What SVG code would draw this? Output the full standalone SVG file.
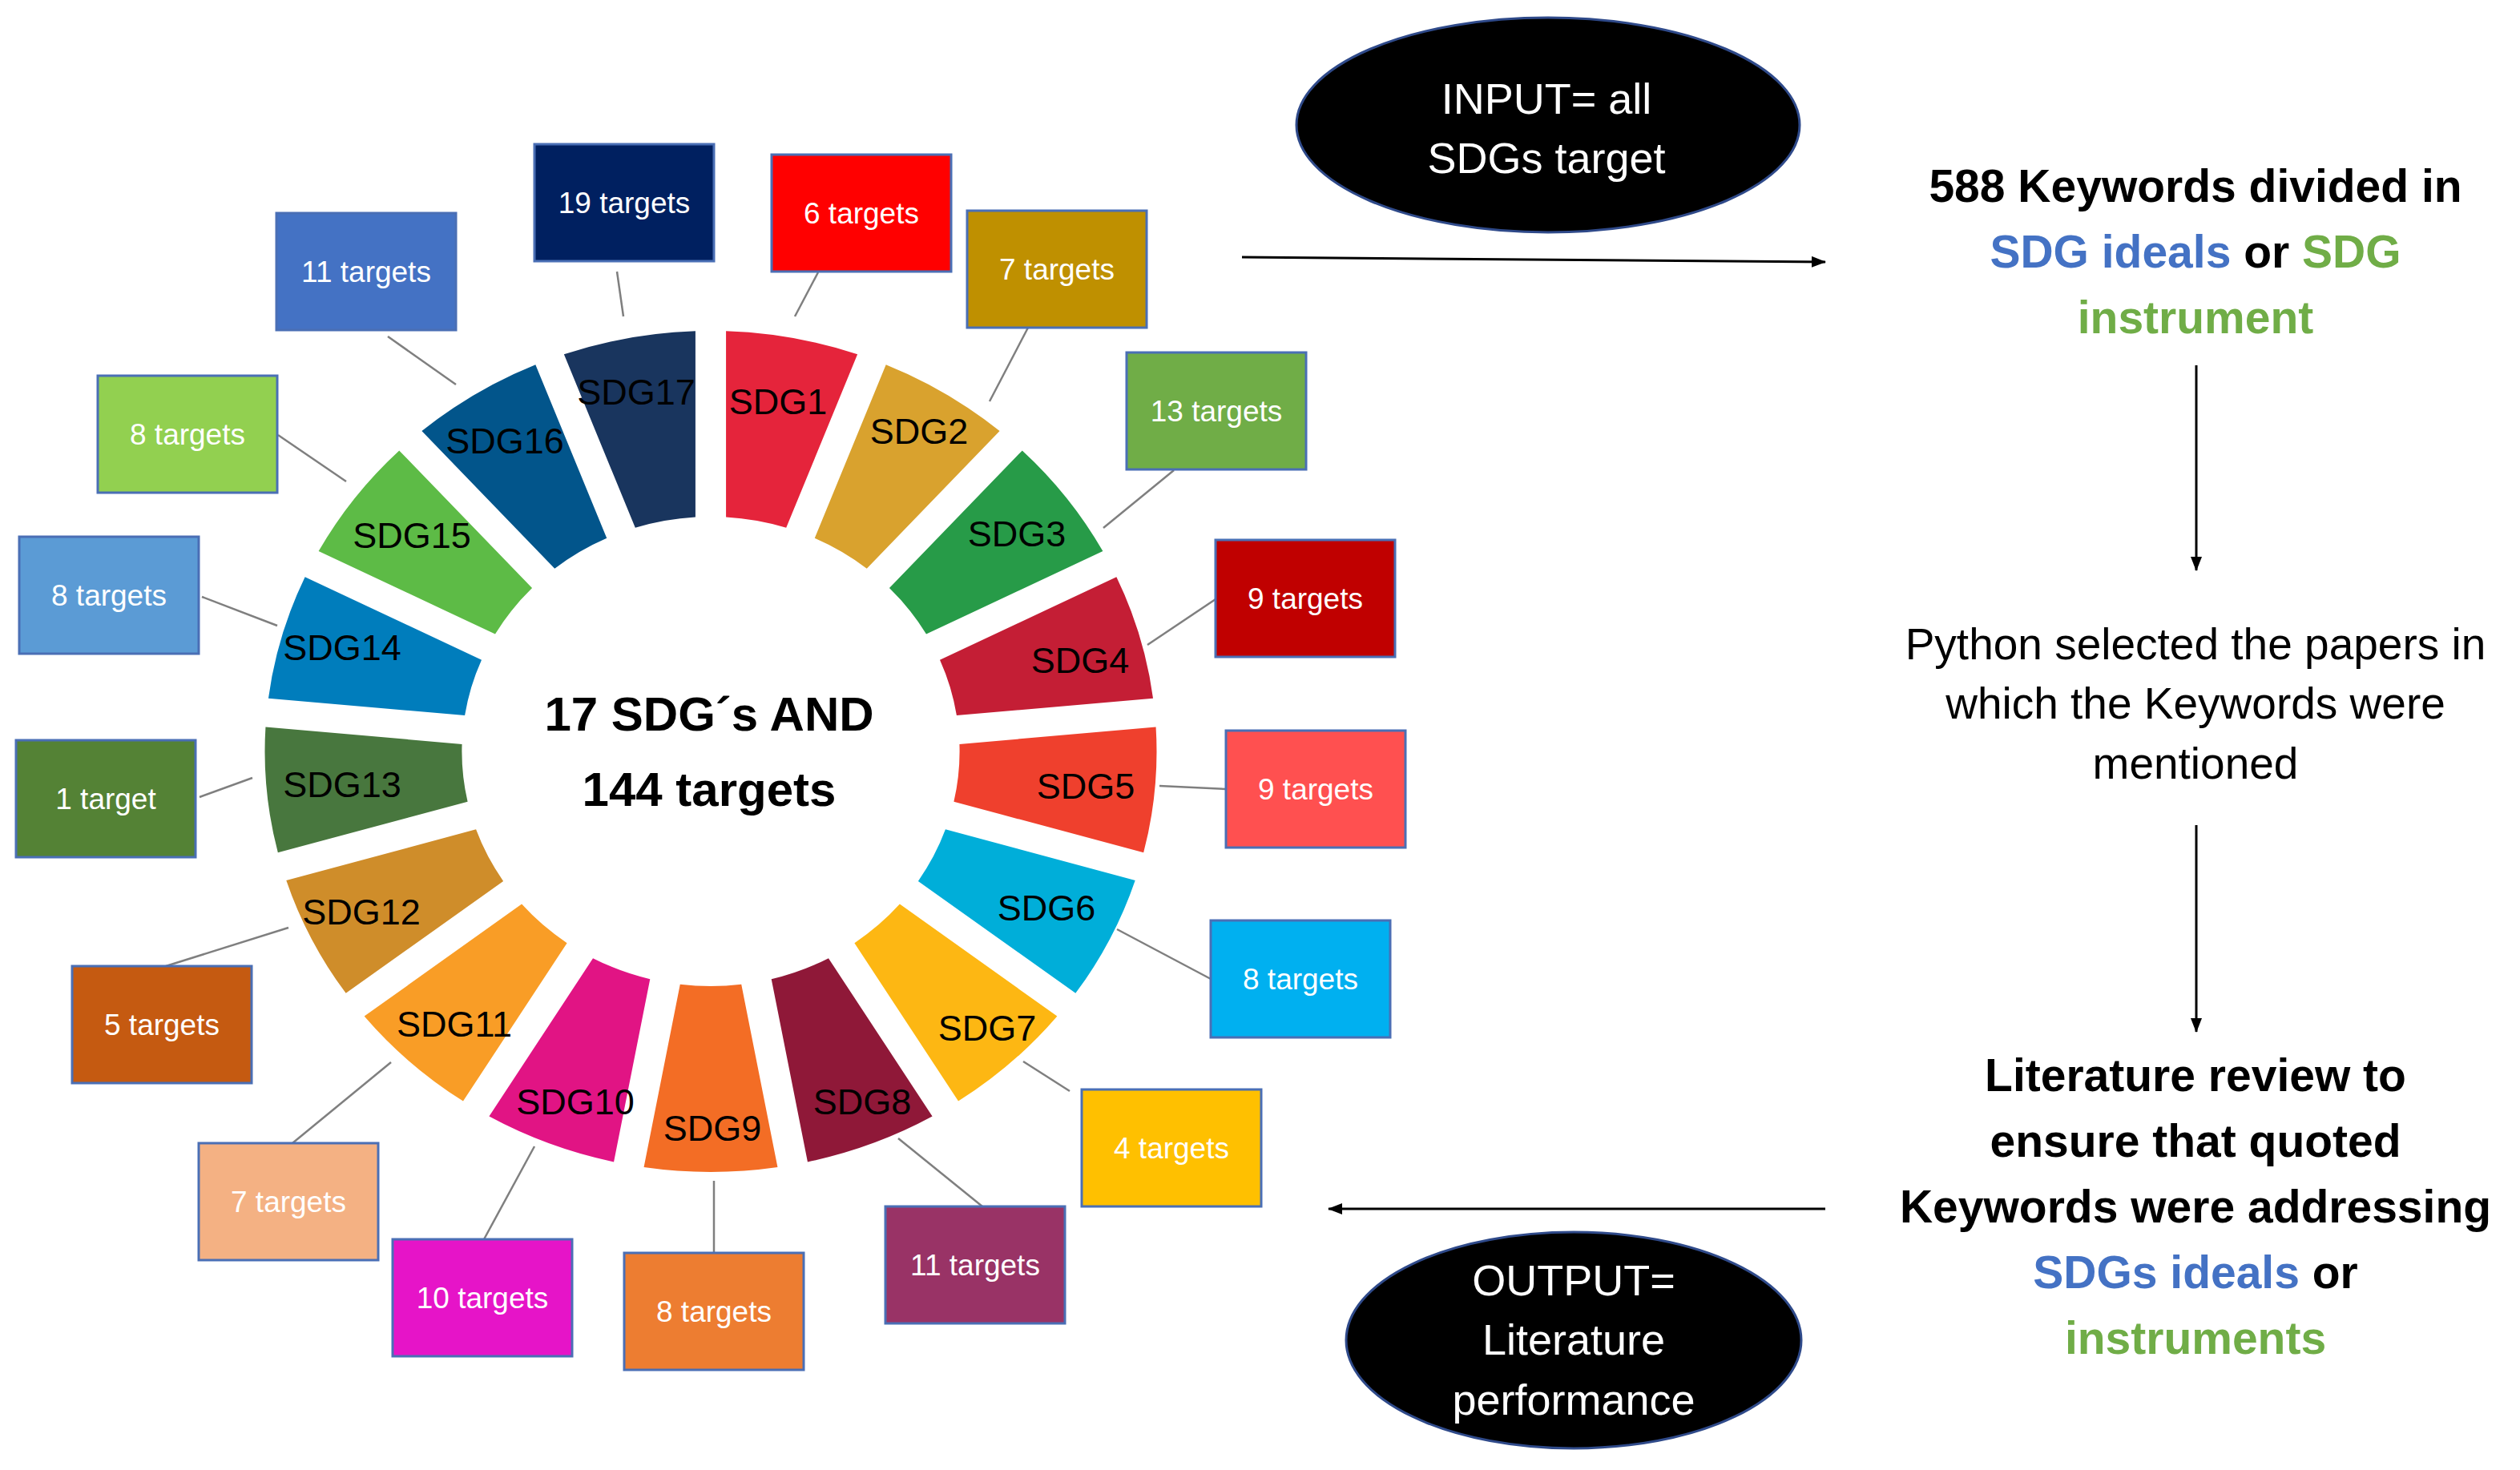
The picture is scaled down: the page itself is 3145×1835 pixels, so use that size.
<svg xmlns="http://www.w3.org/2000/svg" width="3145" height="1835" viewBox="0 0 3145 1835">
<defs>
<style>
.seg{stroke:none}
.sl{font-family:"Liberation Sans",Arial,sans-serif;font-size:45px;fill:#000;text-anchor:middle}
.box{stroke:#4A6FB5;stroke-width:3}
.bt{font-family:"Liberation Sans",Arial,sans-serif;font-size:37px;fill:#fff;text-anchor:middle}
.con{stroke:#7F7F7F;stroke-width:2.5;fill:none}
.arr{stroke:#000;stroke-width:3;fill:none;marker-end:url(#ah)}
.ell{fill:#000;stroke:#2F4A8A;stroke-width:3}
.et{font-family:"Liberation Sans",Arial,sans-serif;font-size:54px;fill:#fff;text-anchor:middle}
.rb{font-family:"Liberation Sans",Arial,sans-serif;font-size:57px;font-weight:bold;fill:#000;text-anchor:middle}
.rr{font-family:"Liberation Sans",Arial,sans-serif;font-size:55px;fill:#000;text-anchor:middle}
.ct{font-family:"Liberation Sans",Arial,sans-serif;font-size:60px;font-weight:bold;fill:#000;text-anchor:middle}
.blue{fill:#4472C4}
.green{fill:#70AD47}
</style>
<marker id="ah" markerUnits="userSpaceOnUse" markerWidth="18" markerHeight="14" refX="17" refY="7" orient="auto">
<path d="M0,0 L18,7 L0,14 Z" fill="#000"/>
</marker>
</defs>
<rect width="3145" height="1835" fill="#fff"/>

<!-- connectors -->
<g id="connectors">
<line class="con" x1="770" y1="339" x2="778" y2="395"/>
<line class="con" x1="1021" y1="340" x2="992" y2="395"/>
<line class="con" x1="1283" y1="409" x2="1235" y2="501"/>
<line class="con" x1="484" y1="420" x2="569" y2="480"/>
<line class="con" x1="347" y1="543" x2="432" y2="601"/>
<line class="con" x1="1465" y1="587" x2="1377" y2="659"/>
<line class="con" x1="1517" y1="748" x2="1432" y2="805"/>
<line class="con" x1="1530" y1="985" x2="1447" y2="981"/>
<line class="con" x1="1511" y1="1222" x2="1394" y2="1160"/>
<line class="con" x1="1335" y1="1362" x2="1277" y2="1325"/>
<line class="con" x1="1226" y1="1506" x2="1121" y2="1421"/>
<line class="con" x1="891" y1="1564" x2="891" y2="1474"/>
<line class="con" x1="604" y1="1547" x2="667" y2="1431"/>
<line class="con" x1="365" y1="1427" x2="488" y2="1326"/>
<line class="con" x1="207" y1="1206" x2="360" y2="1158"/>
<line class="con" x1="249" y1="995" x2="315" y2="971"/>
<line class="con" x1="252" y1="745" x2="346" y2="781"/>
<line class="arr" x1="1550" y1="321" x2="2278" y2="327"/>
<line class="arr" x1="2741" y1="456" x2="2741" y2="712"/>
<line class="arr" x1="2741" y1="1030" x2="2741" y2="1288"/>
<line class="arr" x1="2278" y1="1509" x2="1658" y2="1509"/>
</g>

<!-- wheel segments -->
<g id="wheel" transform="translate(887,938) scale(1.06,1)">
<path id="seg1" class="seg" fill="#E5243B" d="M18,-524.69 A525,525 0 0 1 172.76,-495.76 L88.87,-279.2 A293,293 0 0 0 18,-292.45 Z"/>
<path id="seg2" class="seg" fill="#D9A22E" d="M206.32,-482.76 A525,525 0 0 1 340.18,-399.88 L183.72,-228.25 A293,293 0 0 0 122.43,-266.2 Z"/>
<path id="seg3" class="seg" fill="#279B48" d="M366.78,-375.62 A525,525 0 0 1 461.66,-249.98 L253.77,-146.46 A293,293 0 0 0 210.32,-203.99 Z"/>
<path id="seg4" class="seg" fill="#C41E35" d="M477.7,-217.76 A525,525 0 0 1 520.79,-66.33 L289.54,-44.9 A293,293 0 0 0 269.81,-114.24 Z"/>
<path id="seg5" class="seg" fill="#EF402D" d="M524.11,-30.49 A525,525 0 0 1 509.59,126.28 L286.22,62.72 A293,293 0 0 0 292.86,-9.06 Z"/>
<path id="seg6" class="seg" fill="#00AED9" d="M499.73,160.9 A525,525 0 0 1 429.56,301.83 L244.23,161.88 A293,293 0 0 0 276.36,97.34 Z"/>
<path id="seg7" class="seg" fill="#FDB713" d="M407.86,330.55 A525,525 0 0 1 291.51,436.62 L169.25,239.17 A293,293 0 0 0 222.53,190.6 Z"/>
<path id="seg8" class="seg" fill="#8F1838" d="M260.91,455.58 A525,525 0 0 1 114.1,512.44 L71.43,284.16 A293,293 0 0 0 138.65,258.13 Z"/>
<path id="seg9" class="seg" fill="#F36D25" d="M78.72,519.06 A525,525 0 0 1 -78.72,519.06 L-36.05,290.78 A293,293 0 0 0 36.05,290.78 Z"/>
<path id="seg10" class="seg" fill="#E11484" d="M-114.1,512.44 A525,525 0 0 1 -260.91,455.58 L-138.65,258.13 A293,293 0 0 0 -71.43,284.16 Z"/>
<path id="seg11" class="seg" fill="#F99D26" d="M-291.51,436.62 A525,525 0 0 1 -407.86,330.55 L-222.53,190.6 A293,293 0 0 0 -169.25,239.17 Z"/>
<path id="seg12" class="seg" fill="#CF8D2A" d="M-429.56,301.83 A525,525 0 0 1 -499.73,160.9 L-276.36,97.34 A293,293 0 0 0 -244.23,161.88 Z"/>
<path id="seg13" class="seg" fill="#48773E" d="M-509.59,126.28 A525,525 0 0 1 -524.11,-30.49 L-292.86,-9.06 A293,293 0 0 0 -286.22,62.72 Z"/>
<path id="seg14" class="seg" fill="#007DBC" d="M-520.79,-66.33 A525,525 0 0 1 -477.7,-217.76 L-269.81,-114.24 A293,293 0 0 0 -289.54,-44.9 Z"/>
<path id="seg15" class="seg" fill="#5DBB46" d="M-461.66,-249.98 A525,525 0 0 1 -366.78,-375.62 L-210.32,-203.99 A293,293 0 0 0 -253.77,-146.46 Z"/>
<path id="seg16" class="seg" fill="#02558B" d="M-340.18,-399.88 A525,525 0 0 1 -206.32,-482.76 L-122.43,-266.2 A293,293 0 0 0 -183.72,-228.25 Z"/>
<path id="seg17" class="seg" fill="#19355E" d="M-172.76,-495.76 A525,525 0 0 1 -18,-524.69 L-18,-292.45 A293,293 0 0 0 -88.87,-279.2 Z"/>
</g>

<g id="sdg-labels">
<text class="sl" x="971" y="517">SDG1</text>
<text class="sl" x="1147" y="554">SDG2</text>
<text class="sl" x="1269" y="682">SDG3</text>
<text class="sl" x="1348" y="840">SDG4</text>
<text class="sl" x="1355" y="997">SDG5</text>
<text class="sl" x="1306" y="1149">SDG6</text>
<text class="sl" x="1232" y="1299">SDG7</text>
<text class="sl" x="1076" y="1391">SDG8</text>
<text class="sl" x="889" y="1424">SDG9</text>
<text class="sl" x="718" y="1391">SDG10</text>
<text class="sl" x="567" y="1294">SDG11</text>
<text class="sl" x="451" y="1154">SDG12</text>
<text class="sl" x="427" y="995">SDG13</text>
<text class="sl" x="427" y="824">SDG14</text>
<text class="sl" x="514" y="684">SDG15</text>
<text class="sl" x="630" y="566">SDG16</text>
<text class="sl" x="794" y="505">SDG17</text>
</g>

<g id="center">
<text class="ct" x="885" y="912">17 SDG´s AND</text>
<text class="ct" x="885" y="1006">144 targets</text>
</g>

<g id="t17"><rect class="box" x="667" y="180" width="224" height="146" fill="#002060"/><text class="bt" x="779" y="266">19 targets</text></g>
<g id="t1"><rect class="box" x="963" y="193" width="224" height="146" fill="#FF0000"/><text class="bt" x="1075" y="279">6 targets</text></g>
<g id="t2"><rect class="box" x="1207" y="263" width="224" height="146" fill="#BF9000"/><text class="bt" x="1319" y="349">7 targets</text></g>
<g id="t16"><rect class="box" x="345" y="266" width="224" height="146" fill="#4472C4"/><text class="bt" x="457" y="352">11 targets</text></g>
<g id="t3"><rect class="box" x="1406" y="440" width="224" height="146" fill="#70AD47"/><text class="bt" x="1518" y="526">13 targets</text></g>
<g id="t15"><rect class="box" x="122" y="469" width="224" height="146" fill="#92D050"/><text class="bt" x="234" y="555">8 targets</text></g>
<g id="t14"><rect class="box" x="24" y="670" width="224" height="146" fill="#5B9BD5"/><text class="bt" x="136" y="756">8 targets</text></g>
<g id="t4"><rect class="box" x="1517" y="674" width="224" height="146" fill="#C00000"/><text class="bt" x="1629" y="760">9 targets</text></g>
<g id="t13"><rect class="box" x="20" y="924" width="224" height="146" fill="#548235"/><text class="bt" x="132" y="1010">1 target</text></g>
<g id="t5"><rect class="box" x="1530" y="912" width="224" height="146" fill="#FF5050"/><text class="bt" x="1642" y="998">9 targets</text></g>
<g id="t12"><rect class="box" x="90" y="1206" width="224" height="146" fill="#C55A11"/><text class="bt" x="202" y="1292">5 targets</text></g>
<g id="t6"><rect class="box" x="1511" y="1149" width="224" height="146" fill="#00B0F0"/><text class="bt" x="1623" y="1235">8 targets</text></g>
<g id="t7"><rect class="box" x="1350" y="1360" width="224" height="146" fill="#FFC000"/><text class="bt" x="1462" y="1446">4 targets</text></g>
<g id="t11"><rect class="box" x="248" y="1427" width="224" height="146" fill="#F4B183"/><text class="bt" x="360" y="1513">7 targets</text></g>
<g id="t10"><rect class="box" x="490" y="1547" width="224" height="146" fill="#E614C8"/><text class="bt" x="602" y="1633">10 targets</text></g>
<g id="t9"><rect class="box" x="779" y="1564" width="224" height="146" fill="#ED7D31"/><text class="bt" x="891" y="1650">8 targets</text></g>
<g id="t8"><rect class="box" x="1105" y="1506" width="224" height="146" fill="#993366"/><text class="bt" x="1217" y="1592">11 targets</text></g>

<g id="input">
<ellipse class="ell" cx="1932" cy="156" rx="314" ry="134"/>
<text class="et" x="1930" y="142">INPUT= all</text>
<text class="et" x="1930" y="216">SDGs target</text>
</g>

<g id="keywords">
<text class="rb" x="2740" y="252">588 Keywords divided in</text>
<text class="rb" x="2740" y="334"><tspan class="blue">SDG ideals</tspan> or <tspan class="green">SDG</tspan></text>
<text class="rb green" x="2740" y="416">instrument</text>
</g>

<g id="python">
<text class="rr" x="2740" y="823">Python selected the papers in</text>
<text class="rr" x="2740" y="897">which the Keywords were</text>
<text class="rr" x="2740" y="972">mentioned</text>
</g>

<g id="review">
<text class="rb" x="2740" y="1362">Literature review to</text>
<text class="rb" x="2740" y="1444">ensure that quoted</text>
<text class="rb" x="2740" y="1526">Keywords were addressing</text>
<text class="rb" x="2740" y="1608"><tspan class="blue">SDGs ideals</tspan> or</text>
<text class="rb green" x="2740" y="1690">instruments</text>
</g>

<g id="output">
<ellipse class="ell" cx="1964" cy="1673" rx="284" ry="135"/>
<text class="et" x="1964" y="1617">OUTPUT=</text>
<text class="et" x="1964" y="1691">Literature</text>
<text class="et" x="1964" y="1766">performance</text>
</g>
</svg>
